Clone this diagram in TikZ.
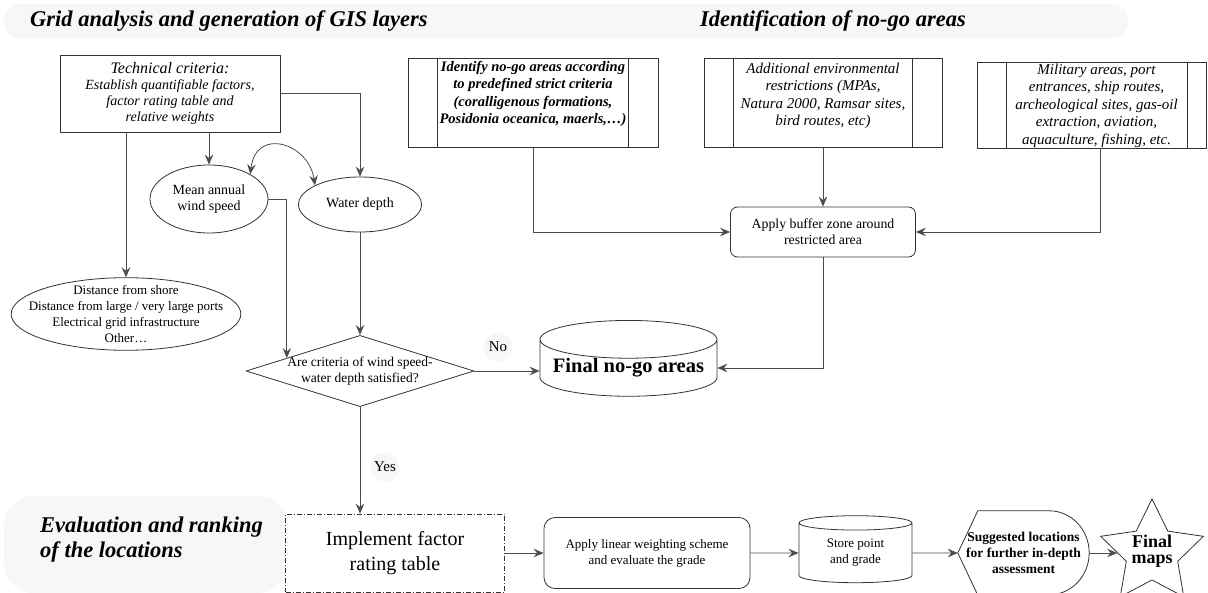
\documentclass[tikz,border=0pt]{standalone}
\usepackage{fontspec}
\setmainfont{Liberation Serif}
\usetikzlibrary{arrows.meta,shapes.geometric,positioning,calc}

\tikzset{
  tip/.style={-{Stealth[length=10pt,width=8.5pt,inset=3.5pt]}},
  link/.style={draw=black!70, line width=0.8pt, tip},
  box/.style={draw=black!80, line width=0.8pt},
  heading/.style={font=\bfseries\itshape\fontsize{22.5}{25}\selectfont, align=left, inner sep=0pt},
  haze/.style={fill=black!3, draw=none},
  nogobox/.style={box, rectangle, minimum width=#1, minimum height=89, inner sep=0pt},
  nogotext/.style={font=\itshape\fontsize{15}{17.5}\selectfont, align=center, inner sep=0pt},
  oval/.style={box, ellipse, align=center, font=\fontsize{14}{16}\selectfont},
  dbase/.style={box, cylinder, shape border rotate=90, aspect=0.25, align=center, inner sep=0pt},
  small/.style={font=\fontsize{13}{16}\selectfont, align=center},
}

\begin{document}
\begin{tikzpicture}[x=1pt,y=-1pt]

\useasboundingbox (0,0) rectangle (1208,593);

% BACKGROUND
\fill[black!3, rounded corners=16pt] (4,4) rectangle (1128,38);
\fill[black!3, rounded corners=30pt] (4,496) rectangle (288,593);

% TITLES
\node[heading, anchor=west] (gridtitle) at (30,21) {Grid analysis and generation of GIS layers};
\node[heading, anchor=west] (nogotitle) at (700,21) {Identification of no-go areas};
\node[heading, anchor=west] (evaltitle) at (40,540) {Evaluation and ranking\\of the locations};

% GRID ANALYSIS
\node[box, rectangle, minimum width=220, minimum height=77, inner sep=0pt,
      font=\itshape\fontsize{14}{16}\selectfont, align=center] (tech) at (170,93.5)
      {{\fontsize{16}{18}\selectfont Technical criteria:}\\Establish quantifiable factors,\\factor rating table and\\relative weights};
\node[oval, minimum width=118, minimum height=68, inner sep=0pt] (wind) at (209,199) {Mean annual\\wind speed};
\node[oval, minimum width=123, minimum height=55, inner sep=0pt] (water) at (360,204.5) {Water depth};
\node[oval, inner xsep=-16pt, inner ysep=-3pt, font=\fontsize{13}{16}\selectfont] (dist) at (126,314)
      {Distance from shore\\Distance from large / very large ports\\Electrical grid infrastructure\\Other\dots};
\node[box, diamond, aspect=3.2, inner sep=-1pt, font=\fontsize{13.5}{16}\selectfont, align=center] (crit) at (360,371)
      {Are criteria of wind speed-\\water depth satisfied?};

% NO-GO AREAS
\node[nogobox=250] (strict) at (533,102.5) {};
\node[nogobox=238] (environ) at (823,102.5) {};
\node[nogobox=229, minimum height=86] (human) at (1091.5,105) {};
\foreach \b in {strict,environ,human}
  \draw[box] ([xshift=30]\b.north west) -- ([xshift=30]\b.south west);
\draw[box] ([xshift=-30]strict.north east) -- ([xshift=-30]strict.south east);
\draw[box] ([xshift=-30]environ.north east) -- ([xshift=-30]environ.south east);
\draw[box] ([xshift=-19]human.north east) -- ([xshift=-19]human.south east);
\node[nogotext, font=\bfseries\itshape\fontsize{14.5}{17.5}\selectfont, below=3pt of strict.north] (stricttext)
      {Identify no-go areas according\\to predefined strict criteria\\(coralligenous formations,\\Posidonia oceanica, maerls,\dots)};
\node[nogotext, below=5pt of environ.north] (environtext)
      {Additional environmental\\restrictions (MPAs,\\Natura 2000, Ramsar sites,\\bird routes, etc)};
\node[nogotext, below=2pt of human.north, xshift=5pt] (humantext)
      {Military areas, port\\entrances, ship routes,\\archeological sites, gas-oil\\extraction, aviation,\\aquaculture, fishing, etc.};
\node[box, rectangle, rounded corners=7pt, minimum width=185, minimum height=50,
      font=\fontsize{13.8}{16}\selectfont, align=center] (buffer) at (823,232)
      {Apply buffer zone around\\restricted area};
\node[dbase, minimum width=177, minimum height=70, font=\bfseries\fontsize{20.5}{22}\selectfont] (final) at (628.5,368) {Final no-go areas};
\node[haze, circle, inner sep=3pt, font=\fontsize{15}{18}\selectfont] (nolabel) at (498,347) {No};

% EVALUATION
\node[box, rectangle, dash pattern=on 5pt off 2pt on 1pt off 2pt, minimum width=219, minimum height=78,
      font=\fontsize{20}{25}\selectfont, align=center] (implement) at (395,553) {Implement factor\\rating table};
\node[box, rectangle, rounded corners=11pt, minimum width=206, minimum height=71, small] (linear) at (647,553)
      {Apply linear weighting scheme\\and evaluate the grade};
\node[dbase, minimum width=113, minimum height=67, small] (store) at (855.5,553) {Store point\\and grade};
\node[rectangle, minimum width=131, minimum height=84, inner sep=0pt,
      font=\bfseries\fontsize{13.5}{16}\selectfont, align=center] (suggest) at (1023.5,553)
      {Suggested locations\\for further in-depth\\assessment};
\draw[box] (suggest.west) -- ([xshift=20]suggest.north west) -- ([xshift=-40]suggest.north east)
      arc[start angle=90, end angle=-90, x radius=40pt, y radius=42pt] -- ([xshift=20]suggest.south west) -- cycle;
\node[box, star, star points=5, star point ratio=2.0, minimum size=108, inner sep=0pt] (maps) at (1152,553) {};
\node[font=\bfseries\fontsize{18}{16}\selectfont, align=center, inner sep=0pt] (mapstext) at (1152,551) {Final\\maps};
\node[haze, circle, inner sep=2pt, font=\fontsize{15}{18}\selectfont] (yeslabel) at (385,467) {Yes};

% CONNECTORS
\draw[link] (wind.north |- tech.south) -- (wind.north);
\draw[link] (tech.east) -| (water.north);
\draw[link] (dist.north |- tech.south) -- (dist.north);
\draw[link, {Stealth[length=10pt,width=8.5pt,inset=3.5pt]}-{Stealth[length=10pt,width=8.5pt,inset=3.5pt]}]
      (wind.31) .. controls +(6pt,48pt) and +(-6pt,42pt) .. (water.157);
\draw[link] (wind.east) -| ($(crit.west)!0.36!(crit.north)$);
\draw[link] (water.south) -- (crit.north);
\draw[link] (crit.east) -- (crit.east -| final.west);
\draw[link] (buffer.south) |- (final.east);
\draw[link] (strict.south) |- (buffer.west);
\draw[link] (environ.south) -- (buffer.north);
\draw[link] ([xshift=9pt]human.south) |- (buffer.east);
\draw[link] (crit.south) -- (crit.south |- implement.north);
\draw[link] (implement.east) -- (linear.west);
\draw[link] (linear.east) -- (store.west);
\draw[link] (store.east) -- (suggest.west);
\draw[link] (suggest.east) -- (maps.west);

\end{tikzpicture}
\end{document}
